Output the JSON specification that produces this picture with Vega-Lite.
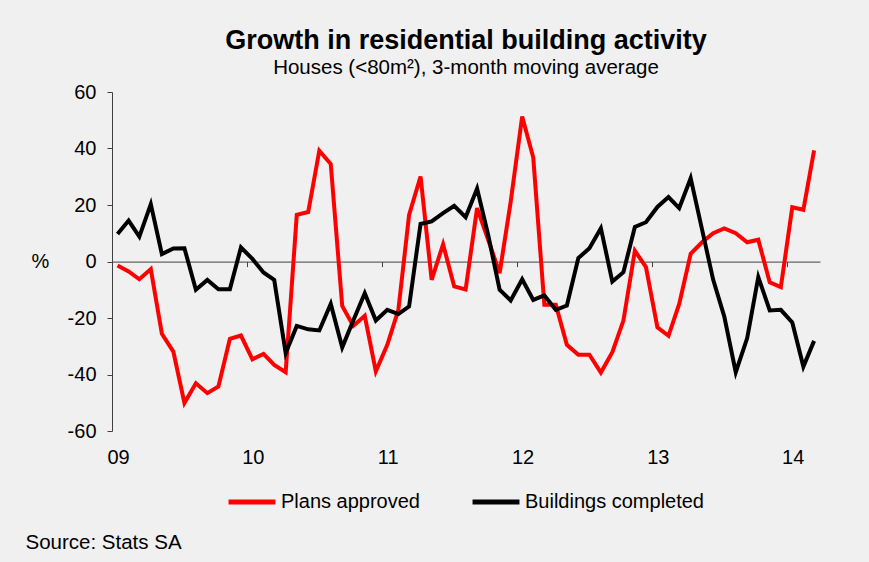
{
  "$schema": "https://vega.github.io/schema/vega-lite/v6.json",
  "width": 708,
  "height": 339,
  "autosize": {"type": "none"},
  "padding": {"left": 112, "top": 92, "right": 49, "bottom": 131},
  "background": "#f0f0f0",
  "config": {"font": "Liberation Sans", "view": {"stroke": null}},
  "title": {
    "text": "Growth in residential building activity",
    "subtitle": "Houses (<80m²), 3-month moving average",
    "fontSize": 27,
    "fontWeight": "bold",
    "subtitleFontSize": 20.5,
    "color": "#000000",
    "subtitleColor": "#000000",
    "anchor": "middle",
    "offset": 3,
    "subtitlePadding": 3,
    "font": "Liberation Sans",
    "subtitleFont": "Liberation Sans"
  },
  "data": {
    "values": [
      {"month": "2009-01-16", "plans": -1.4, "completed": 9.7},
      {"month": "2009-02-15", "plans": -3.5, "completed": 14.5},
      {"month": "2009-03-16", "plans": -6.3, "completed": 8.8},
      {"month": "2009-04-16", "plans": -2.7, "completed": 20.3},
      {"month": "2009-05-16", "plans": -25.6, "completed": 2.6},
      {"month": "2009-06-16", "plans": -31.9, "completed": 4.6},
      {"month": "2009-07-16", "plans": -50.1, "completed": 4.7},
      {"month": "2009-08-16", "plans": -43.1, "completed": -10.0},
      {"month": "2009-09-16", "plans": -46.6, "completed": -6.5},
      {"month": "2009-10-16", "plans": -44.2, "completed": -9.8},
      {"month": "2009-11-16", "plans": -27.4, "completed": -9.8},
      {"month": "2009-12-16", "plans": -26.2, "completed": 5.0},
      {"month": "2010-01-16", "plans": -34.6, "completed": 0.9},
      {"month": "2010-02-15", "plans": -32.7, "completed": -3.9},
      {"month": "2010-03-16", "plans": -36.6, "completed": -6.5},
      {"month": "2010-04-16", "plans": -39.2, "completed": -32.4},
      {"month": "2010-05-16", "plans": 16.5, "completed": -22.8},
      {"month": "2010-06-16", "plans": 17.5, "completed": -24.0},
      {"month": "2010-07-16", "plans": 39.2, "completed": -24.4},
      {"month": "2010-08-16", "plans": 34.5, "completed": -15.0},
      {"month": "2010-09-16", "plans": -15.7, "completed": -30.4},
      {"month": "2010-10-16", "plans": -22.8, "completed": -20.9},
      {"month": "2010-11-16", "plans": -19.2, "completed": -11.2},
      {"month": "2010-12-16", "plans": -38.9, "completed": -20.9},
      {"month": "2011-01-16", "plans": -29.5, "completed": -17.1},
      {"month": "2011-02-15", "plans": -17.1, "completed": -18.6},
      {"month": "2011-03-16", "plans": 16.5, "completed": -15.9},
      {"month": "2011-04-16", "plans": 30.1, "completed": 13.3},
      {"month": "2011-05-16", "plans": -6.5, "completed": 14.2},
      {"month": "2011-06-16", "plans": 6.1, "completed": 17.1},
      {"month": "2011-07-16", "plans": -8.8, "completed": 19.7},
      {"month": "2011-08-16", "plans": -9.9, "completed": 15.7},
      {"month": "2011-09-16", "plans": 18.9, "completed": 25.8},
      {"month": "2011-10-16", "plans": 7.7, "completed": 9.4},
      {"month": "2011-11-16", "plans": -4.1, "completed": -10.0},
      {"month": "2011-12-16", "plans": 21.2, "completed": -13.8},
      {"month": "2012-01-16", "plans": 51.3, "completed": -6.3},
      {"month": "2012-02-15", "plans": 36.8, "completed": -13.6},
      {"month": "2012-03-16", "plans": -15.3, "completed": -12.0},
      {"month": "2012-04-16", "plans": -15.3, "completed": -17.1},
      {"month": "2012-05-16", "plans": -29.5, "completed": -15.6},
      {"month": "2012-06-16", "plans": -33.0, "completed": 1.2},
      {"month": "2012-07-16", "plans": -33.0, "completed": 4.7},
      {"month": "2012-08-16", "plans": -39.3, "completed": 11.8},
      {"month": "2012-09-16", "plans": -32.1, "completed": -7.1},
      {"month": "2012-10-16", "plans": -20.9, "completed": -3.8},
      {"month": "2012-11-16", "plans": 3.8, "completed": 12.2},
      {"month": "2012-12-16", "plans": -2.0, "completed": 13.9},
      {"month": "2013-01-16", "plans": -23.3, "completed": 19.3},
      {"month": "2013-02-15", "plans": -26.3, "completed": 22.8},
      {"month": "2013-03-16", "plans": -15.0, "completed": 18.9},
      {"month": "2013-04-16", "plans": 2.7, "completed": 29.5},
      {"month": "2013-05-16", "plans": 6.7, "completed": 11.8},
      {"month": "2013-06-16", "plans": 10.0, "completed": -6.5},
      {"month": "2013-07-16", "plans": 11.7, "completed": -19.5},
      {"month": "2013-08-16", "plans": 10.0, "completed": -39.2},
      {"month": "2013-09-16", "plans": 6.8, "completed": -27.1},
      {"month": "2013-10-16", "plans": 7.7, "completed": -5.5},
      {"month": "2013-11-16", "plans": -7.4, "completed": -17.3},
      {"month": "2013-12-16", "plans": -9.1, "completed": -17.1},
      {"month": "2014-01-16", "plans": 19.2, "completed": -21.6},
      {"month": "2014-02-15", "plans": 18.3, "completed": -37.2},
      {"month": "2014-03-16", "plans": 39.3, "completed": -28.1}
    ]
  },
  "encoding": {
    "x": {
      "field": "month",
      "type": "temporal",
      "scale": {
        "type": "utc",
        "domain": [
          {"year": 2009, "month": 1, "date": 1, "utc": true},
          {"year": 2014, "month": 4, "date": 1, "utc": true}
        ]
      },
      "axis": {
        "title": "Source: Stats SA",
        "format": "%y",
        "values": [
          {"year": 2009, "month": 1, "date": 1, "utc": true},
          {"year": 2010, "month": 1, "date": 1, "utc": true},
          {"year": 2011, "month": 1, "date": 1, "utc": true},
          {"year": 2012, "month": 1, "date": 1, "utc": true},
          {"year": 2013, "month": 1, "date": 1, "utc": true},
          {"year": 2014, "month": 1, "date": 1, "utc": true}
        ],
        "offset": -169.4,
        "domainColor": "#404040",
        "tickColor": "#404040",
        "tickSize": 5,
        "labelPadding": 181,
        "labelOffset": 6,
        "labelFlush": false,
        "labelOverlap": false,
        "labelFontSize": 20,
        "labelColor": "#000000",
        "labelAngle": 0,
        "grid": false,
        "titleX": -87,
        "titleY": 281,
        "titleAlign": "left",
        "titleBaseline": "middle",
        "titleFontWeight": "normal",
        "titleFontSize": 20.5,
        "titleColor": "#000000"
      }
    },
    "y": {
      "type": "quantitative",
      "scale": {"domain": [-60, 60]},
      "axis": {
        "values": [-60, -40, -20, 0, 20, 40, 60],
        "labelExpr": "'' + datum.value",
        "title": "%",
        "titleAngle": 0,
        "titleX": -72,
        "titleY": 169.5,
        "titleAlign": "center",
        "titleBaseline": "middle",
        "titleFontWeight": "normal",
        "titleFontSize": 20,
        "titleColor": "#000000",
        "labelFontSize": 20,
        "labelColor": "#000000",
        "labelPadding": 11,
        "tickSize": 5,
        "domainColor": "#404040",
        "tickColor": "#404040",
        "grid": false
      }
    }
  },
  "layer": [
    {
      "mark": {"type": "line", "strokeWidth": 4},
      "encoding": {
        "y": {"field": "plans"},
        "color": {
          "datum": "Plans approved",
          "type": "nominal",
          "scale": {
            "domain": ["Plans approved", "Buildings completed"],
            "range": ["#ff0000", "#000000"]
          },
          "legend": {
            "title": null,
            "orient": "none",
            "legendX": 114,
            "legendY": 384,
            "direction": "horizontal",
            "symbolType": "stroke",
            "symbolStrokeWidth": 5,
            "symbolSize": 2200,
            "labelFontSize": 20,
            "labelColor": "#000000",
            "labelOffset": 3,
            "columnPadding": 42,
            "padding": 0,
            "labelLimit": 300
          }
        }
      }
    },
    {
      "mark": {"type": "line", "strokeWidth": 4},
      "encoding": {
        "y": {"field": "completed"},
        "color": {"datum": "Buildings completed", "type": "nominal"}
      }
    }
  ]
}
